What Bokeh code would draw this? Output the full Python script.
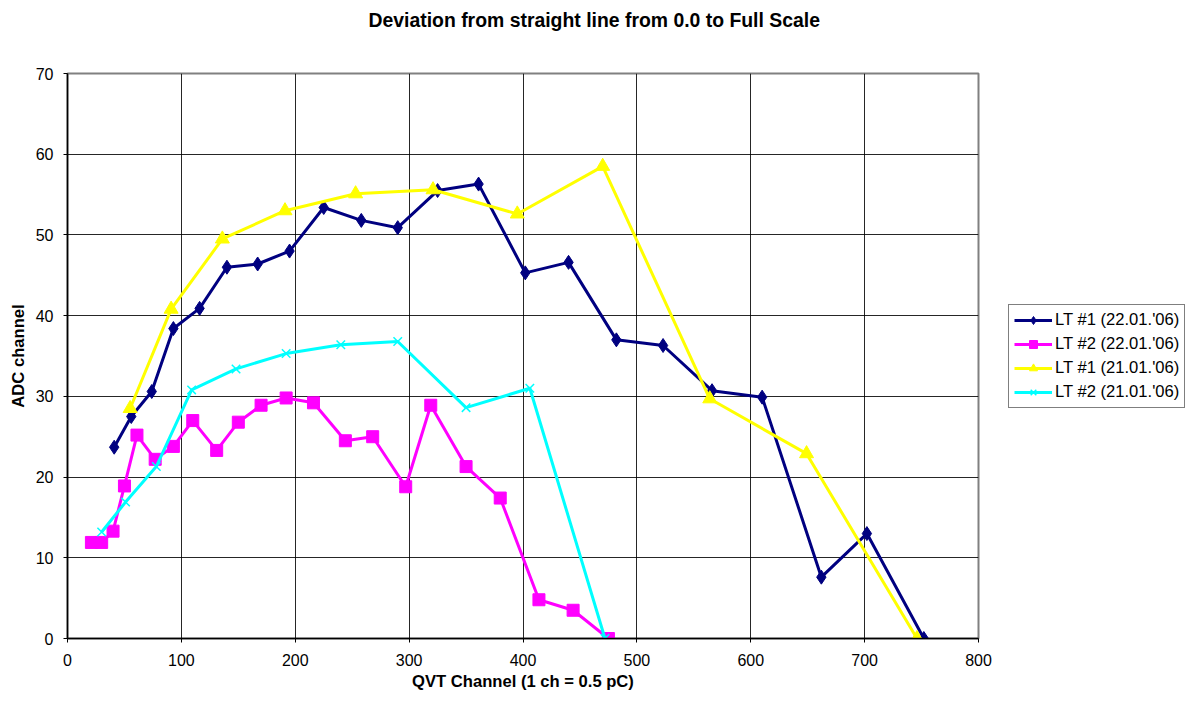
from bokeh.plotting import figure
from bokeh.models import Legend, LegendItem, Range1d, SingleIntervalTicker, Title
from bokeh.embed import file_html
from bokeh.resources import INLINE

# ---- data ----
lt1_22_x = [41, 56, 74, 93, 116, 140, 167, 195, 225, 258, 290, 325, 361, 402, 440, 482, 523, 566, 610, 662, 702, 752]
lt1_22_y = [23.7, 27.5, 30.6, 38.4, 40.9, 46.0, 46.4, 48.0, 53.4, 51.8, 50.9, 55.5, 56.3, 45.3, 46.6, 37.0, 36.3, 30.7, 29.9, 7.6, 13.0, 0.0]

lt2_22_x = [21, 30, 40, 50, 61, 77, 93, 110, 131, 150, 170, 192, 216, 244, 268, 297, 319, 350, 380, 414, 444, 475]
lt2_22_y = [11.9, 11.9, 13.3, 18.9, 25.2, 22.2, 23.8, 27.0, 23.3, 26.8, 28.9, 29.8, 29.2, 24.5, 25.0, 18.8, 28.9, 21.3, 17.4, 4.8, 3.5, 0.0]

lt1_21_x = [55, 91, 136, 191, 253, 321, 395, 470, 564, 649, 746]
lt1_21_y = [28.5, 40.8, 49.5, 53.0, 55.1, 55.6, 52.6, 58.5, 29.7, 22.9, 0.0]

lt2_21_x = [30, 51, 78, 109, 148, 192, 240, 290, 350, 406, 472]
lt2_21_y = [13.2, 16.9, 21.3, 30.8, 33.4, 35.3, 36.4, 36.8, 28.6, 31.0, 0.0]

series_names = ["LT #1 (22.01.'06)", "LT #2 (22.01.'06)", "LT #1 (21.01.'06)", "LT #2 (21.01.'06)"]
title_text = "Deviation from straight line from 0.0 to Full Scale"
x_label = "QVT Channel (1 ch = 0.5 pC)"
y_label = "ADC channel"

FONT = "Liberation Sans"
FS_TICK = "16px"
FS_LABEL = "16.6px"
FS_TITLE = "19.4px"

p = figure(frame_width=911, frame_height=565,
           min_border_left=67, min_border_top=73, min_border_right=211, min_border_bottom=64,
           x_range=Range1d(0, 800), y_range=Range1d(0, 70),
           output_backend="svg", toolbar_location=None, title=None,
           background_fill_color="white", border_fill_color="white")

# spacer (closest to the frame) then the real title above it
spacer = Title(text=" ", text_font=FONT, text_font_size="23.5px")
p.add_layout(spacer, "above")
ttl = Title(text=title_text, align="left", offset=301,
            text_font=FONT, text_font_size=FS_TITLE, text_font_style="bold", text_color="#000000")
p.add_layout(ttl, "above")

p.outline_line_color = "#808080"
p.outline_line_width = 2

p.xaxis.ticker = SingleIntervalTicker(interval=100, num_minor_ticks=0)
p.yaxis.ticker = SingleIntervalTicker(interval=10, num_minor_ticks=0)
for ax in (p.xaxis, p.yaxis):
    ax.axis_line_color = "#000000"
    ax.axis_line_width = 1.5
    ax.major_tick_line_color = "#000000"
    ax.major_tick_out = 4
    ax.major_tick_in = 0
    ax.minor_tick_line_color = None
    ax.major_label_text_font = FONT
    ax.major_label_text_font_size = FS_TICK
    ax.major_label_text_color = "#000000"
    ax.axis_label_text_font = FONT
    ax.axis_label_text_font_size = FS_LABEL
    ax.axis_label_text_font_style = "bold"
    ax.axis_label_text_color = "#000000"

p.xaxis.axis_label = x_label
p.yaxis.axis_label = y_label
p.xaxis.major_label_standoff = 11
p.yaxis.major_label_standoff = 10
p.xaxis.axis_label_standoff = 3
p.yaxis.axis_label_standoff = 5

p.xgrid.grid_line_color = "#000000"
p.ygrid.grid_line_color = "#000000"
p.xgrid.grid_line_width = 1
p.ygrid.grid_line_width = 1
p.xgrid.grid_line_alpha = 0.85
p.ygrid.grid_line_alpha = 0.85

# series
l1 = p.line(lt1_22_x, lt1_22_y, line_color="#000080", line_width=3)
m1 = p.scatter(lt1_22_x, lt1_22_y, marker="diamond", size=14, fill_color="#000080", line_color="#000080")

l2 = p.line(lt2_22_x, lt2_22_y, line_color="#FF00FF", line_width=3)
m2 = p.scatter(lt2_22_x, lt2_22_y, marker="square", size=12, fill_color="#FF00FF", line_color="#FF00FF")

l3 = p.line(lt1_21_x, lt1_21_y, line_color="#FFFF00", line_width=3)
m3 = p.scatter(lt1_21_x, lt1_21_y, marker="triangle", size=14, fill_color="#FFFF00", line_color="#FFFF00")

l4 = p.line(lt2_21_x, lt2_21_y, line_color="#00FFFF", line_width=3)
m4 = p.scatter(lt2_21_x, lt2_21_y, marker="x", size=12, line_color="#00FFFF", line_width=1.5)

legend = Legend(items=[
    LegendItem(label=series_names[0], renderers=[l1, m1]),
    LegendItem(label=series_names[1], renderers=[l2, m2]),
    LegendItem(label=series_names[2], renderers=[l3, m3]),
    LegendItem(label=series_names[3], renderers=[l4, m4]),
], location="center_left")
legend.label_text_font = FONT
legend.label_text_font_size = FS_LABEL
legend.label_text_color = "#000000"
legend.border_line_color = "#000000"
legend.border_line_width = 1
legend.background_fill_color = "white"
legend.background_fill_alpha = 1
legend.glyph_width = 38
legend.glyph_height = 20
legend.label_height = 20
legend.label_standoff = 3
legend.spacing = 4
legend.padding = 5
legend.margin = 30
p.add_layout(legend, "right")

open("out.html", "w").write(file_html(p, INLINE))
